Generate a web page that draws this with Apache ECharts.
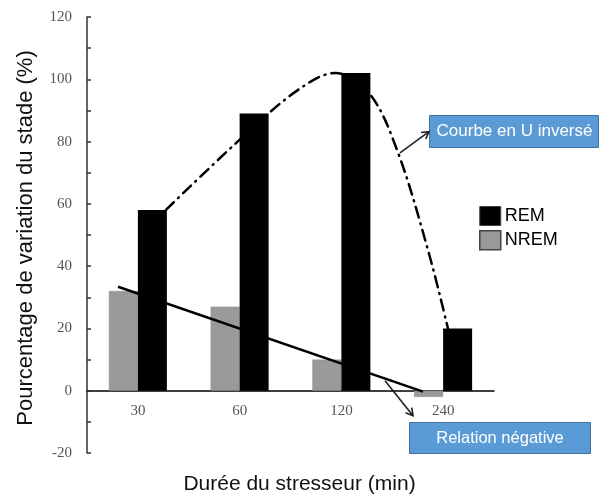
<!DOCTYPE html>
<html>
<head>
<meta charset="utf-8">
<script src="https://cdn.jsdelivr.net/npm/echarts@6/dist/echarts.min.js"></script>
<style>
html,body{margin:0;padding:0;background:#fff;}
#c{width:599px;height:497px;}
</style>
</head>
<body>
<div id="c"></div>
<script>
// ---- data ----
var categories = ['30', '60', '120', '240'];
var remValues = [58, 89, 102, 20];
var nremValues = [32, 27, 10, -2];
var yTicks = { min: -20, max: 120, step: 20 };
// inverted-U annotation curve (x in category units 0..4, y in %)
var curveX = [0.776, 1.779, 2.211, 2.437, 2.771, 3.047, 3.351, 3.548];
var curveY = [58.1, 88.9, 99.5, 102.0, 95.6, 77.3, 45.2, 19.9];
// negative relation trend line
var trendX = [0.305, 3.302];
var trendY = [33.4, -0.3];
// annotation arrows [x1,y1,x2,y2] in data units
var arrow1 = [3.076, 76.4, 3.361, 83.2];
var arrow2 = [2.929, 3.2, 3.204, -8.0];

var curveData = curveX.map(function (x, i) { return [x, curveY[i]]; });
var trendData = trendX.map(function (x, i) { return [x, trendY[i]]; });

var chart = echarts.init(document.getElementById('c'));
var serif = '"Liberation Serif", "Times New Roman", serif';
var sans = '"Liberation Sans", Arial, sans-serif';

var gridTop = 17, gridBottom = 44, H = 497;
var plotH = H - gridTop - gridBottom;
var zeroOffset = plotH * (0 - yTicks.min) / (yTicks.max - yTicks.min);

chart.setOption({
  backgroundColor: '#ffffff',
  animation: false,
  grid: { left: 87, right: 105, top: gridTop, bottom: gridBottom },
  legend: {
    orient: 'vertical',
    left: 479, top: 206, padding: 0,
    itemWidth: 21, itemHeight: 19, itemGap: 4,
    icon: 'rect',
    textStyle: { fontFamily: sans, fontSize: 18, color: '#000', padding: [0, 0, 0, -1] },
    data: [
      { name: 'REM', itemStyle: { color: '#000', borderColor: '#444', borderWidth: 1 } },
      { name: 'NREM', itemStyle: { color: '#999', borderColor: '#444', borderWidth: 1.5 } }
    ]
  },
  xAxis: [{
    type: 'category',
    data: categories,
    position: 'bottom',
    offset: -zeroOffset,
    axisLine: { onZero: false, lineStyle: { color: '#000', width: 1.5 } },
    axisTick: { show: false },
    axisLabel: { fontFamily: serif, fontSize: 15, color: '#555', margin: 13 },
    splitLine: { show: false }
  }, {
    type: 'value', min: 0, max: 4, show: false
  }],
  yAxis: {
    type: 'value',
    min: yTicks.min, max: yTicks.max, interval: yTicks.step,
    axisLine: { show: true, onZero: false, lineStyle: { color: '#333', width: 1.5 } },
    axisTick: { show: true, inside: true, length: 4, lineStyle: { color: '#333', width: 1.5 } },
    minorTick: { show: true, splitNumber: 2, length: 4, lineStyle: { color: '#333', width: 1.5 } },
    axisLabel: { fontFamily: serif, fontSize: 15, color: '#555', margin: 15 },
    splitLine: { show: false }
  },
  series: [{
    name: 'NREM', type: 'bar', data: nremValues,
    barWidth: 29, barGap: '0%',
    itemStyle: { color: '#9a9a9a', borderColor: '#8a8a8a', borderWidth: 0.5 },
    z: 2
  }, {
    name: 'REM', type: 'bar', data: remValues,
    barWidth: 29,
    itemStyle: { color: '#000' },
    z: 2
  }, {
    name: 'curve', type: 'line', xAxisIndex: 1, data: curveData,
    smooth: 0.35, symbol: 'none',
    lineStyle: { color: '#000', width: 2.5, type: [11, 6, 1, 6], cap: 'round' },
    z: 1
  }, {
    name: 'trend', type: 'line', xAxisIndex: 1, data: trendData,
    symbol: 'none',
    lineStyle: { color: '#000', width: 2.5 },
    z: 3
  }]
});

function arrowGraphics(a) {
  var p1 = chart.convertToPixel({ xAxisIndex: 1, yAxisIndex: 0 }, [a[0], a[1]]);
  var p2 = chart.convertToPixel({ xAxisIndex: 1, yAxisIndex: 0 }, [a[2], a[3]]);
  var dx = p2[0] - p1[0], dy = p2[1] - p1[1];
  var L = Math.sqrt(dx * dx + dy * dy);
  var bx = -dx / L, by = -dy / L;
  var c = Math.cos(Math.PI / 6), s = Math.sin(Math.PI / 6), h = 8;
  var h1 = [p2[0] + h * (bx * c - by * s), p2[1] + h * (bx * s + by * c)];
  var h2 = [p2[0] + h * (bx * c + by * s), p2[1] + h * (-bx * s + by * c)];
  var st = { stroke: '#222', lineWidth: 1.6, fill: null };
  return [
    { type: 'line', shape: { x1: p1[0], y1: p1[1], x2: p2[0], y2: p2[1] }, style: st, z: 10 },
    { type: 'polyline', shape: { points: [h1, p2, h2] }, style: st, z: 10 }
  ];
}

var g = [];
g = g.concat(arrowGraphics(arrow1), arrowGraphics(arrow2));
g.push({
  type: 'group', left: 429, top: 115, z: 20,
  children: [
    { type: 'rect', shape: { x: 0, y: 0, width: 169, height: 32 },
      style: { fill: '#5b9bd5', stroke: '#41719c', lineWidth: 1 } },
    { type: 'text', x: 85, y: 16,
      style: { text: 'Courbe en U inversé', fill: '#fff', font: '17px ' + sans, align: 'center', verticalAlign: 'middle' } }
  ]
});
g.push({
  type: 'group', left: 409, top: 422, z: 20,
  children: [
    { type: 'rect', shape: { x: 0, y: 0, width: 181, height: 31 },
      style: { fill: '#5b9bd5', stroke: '#41719c', lineWidth: 1 } },
    { type: 'text', x: 90.5, y: 15.5,
      style: { text: 'Relation négative', fill: '#fff', font: '16.5px ' + sans, align: 'center', verticalAlign: 'middle' } }
  ]
});
g.push({
  type: 'text', left: 'center', top: 474, z: 20,
  style: { text: 'Durée du stresseur (min)', fill: '#111', font: '21px ' + sans }
});
g.push({
  type: 'text', x: 26, y: 238, rotation: Math.PI / 2, z: 20,
  style: { text: 'Pourcentage de variation du stade (%)', fill: '#111', font: '22px ' + sans, align: 'center', verticalAlign: 'middle' }
});
chart.setOption({ graphic: g });
</script>
</body>
</html>
